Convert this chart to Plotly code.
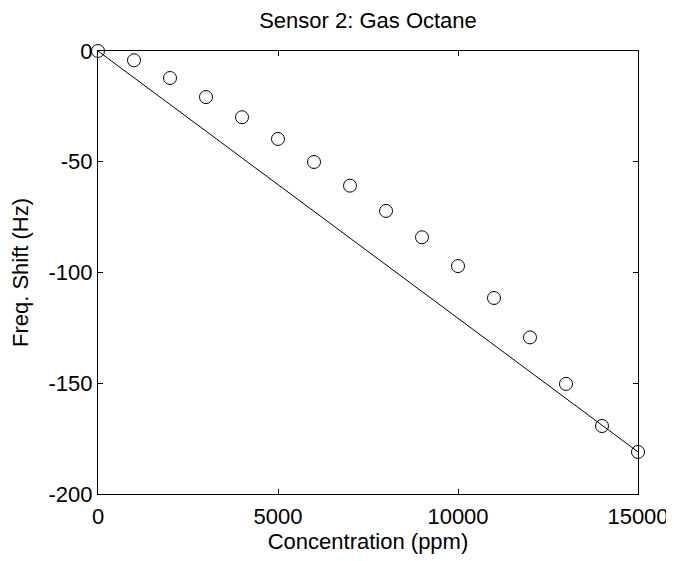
import plotly.graph_objects as go

conc = [0, 1000, 2000, 3000, 4000, 5000, 6000, 7000, 8000, 9000, 10000, 11000, 12000, 13000, 14000, 15000]
shift = [0, -4.2, -12.2, -20.8, -29.9, -39.7, -50.1, -60.8, -72.2, -84.1, -97.1, -111.5, -129.3, -150.3, -169.3, -181.0]
fit_x = [0, 15000]
fit_y = [0, -181.0]
xticks = [0, 5000, 10000, 15000]
yticks = [0, -50, -100, -150, -200]

FAM = "Liberation Sans, Arial, Helvetica, sans-serif"
W, H = 666, 553  # page body has an 8px margin

fig = go.Figure()
fig.add_trace(go.Scatter(x=fit_x, y=fit_y, mode="lines",
                         line=dict(color="black", width=1), showlegend=False))
fig.add_trace(go.Scatter(x=conc, y=shift, mode="markers",
                         marker=dict(symbol="circle-open", size=13, color="black",
                                     line=dict(width=1, color="black")),
                         showlegend=False, cliponaxis=False))

fig.update_layout(
    width=W, height=H,
    margin=dict(l=90, r=36, t=43, b=67, autoexpand=False),
    paper_bgcolor="white", plot_bgcolor="white",
    font=dict(family=FAM, size=22, color="black"),
    title=dict(text="Sensor 2: Gas Octane", xref="paper", x=0.5, xanchor="center",
               yref="container", y=1 - 12 / H, yanchor="middle",
               font=dict(size=22, family=FAM, color="black")),
    xaxis=dict(range=[0, 15000], tickvals=xticks, ticktext=[str(v) for v in xticks],
               ticks="inside", ticklen=5, tickcolor="black", showline=True, linecolor="black",
               linewidth=1, mirror="ticks", showgrid=False, zeroline=False, automargin=False,
               ticklabelstandoff=3,
               title=dict(text="Concentration (ppm)", standoff=5, font=dict(size=22)),
               tickfont=dict(size=22)),
    yaxis=dict(range=[-200, 0], tickvals=yticks, ticktext=[str(v) for v in yticks],
               ticks="inside", ticklen=5, tickcolor="black", showline=True, linecolor="black",
               linewidth=1, mirror="ticks", showgrid=False, zeroline=False, automargin=False,
               title=dict(text="Freq. Shift (Hz)", standoff=13, font=dict(size=22)),
               tickfont=dict(size=22)),
)
fig.write_html("out.html")
